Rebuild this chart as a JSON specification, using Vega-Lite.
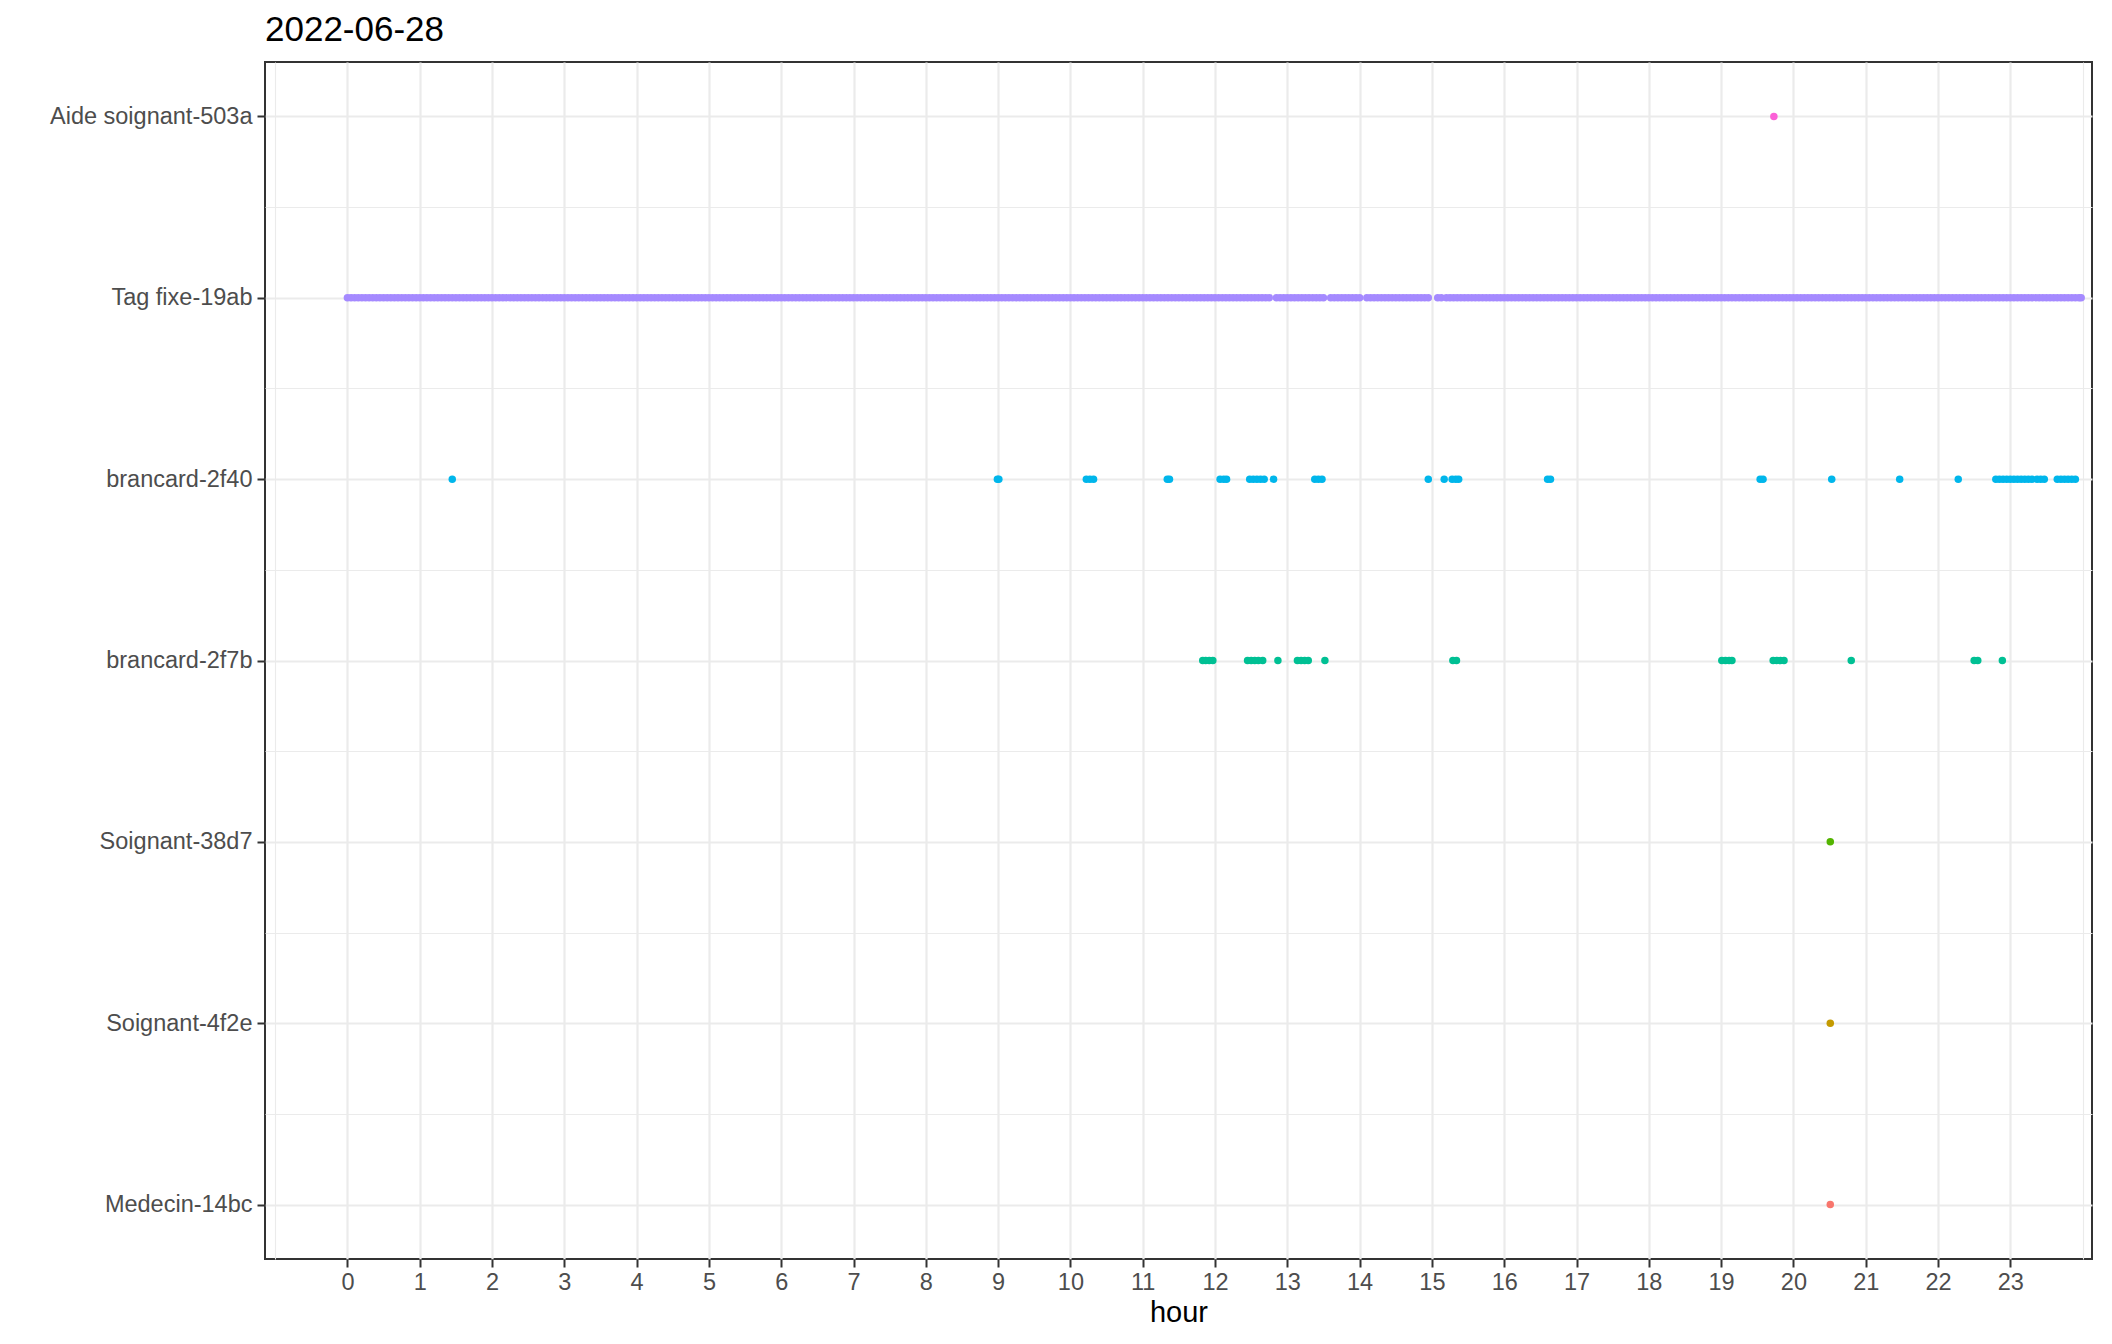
{
"$schema": "https://vega.github.io/schema/vega-lite/v6.json",
"autosize": "none",
"width": 1827,
"height": 1197,
"padding": {"left": 265, "top": 62, "right": 20, "bottom": 85},
"background": "white",
"config": {
  "font": "Liberation Sans",
  "view": {"stroke": "#333333", "strokeWidth": 2},
  "axis": {"domain": false}
},
"title": {"text": "2022-06-28", "anchor": "start", "frame": "group", "fontSize": 35, "fontWeight": "normal", "color": "#000000", "font": "Liberation Sans", "offset": 14},
"layer": [
{
  "data": {"values": [
{"device":"Aide soignant-503a","hour":19.73},
{"device":"Soignant-38d7","hour":20.51},
{"device":"Soignant-4f2e","hour":20.51},
{"device":"Medecin-14bc","hour":20.51},
{"device":"brancard-2f40","hour":1.45},{"device":"brancard-2f40","hour":8.99},{"device":"brancard-2f40","hour":9.01},
{"device":"brancard-2f40","hour":10.22},{"device":"brancard-2f40","hour":10.27},{"device":"brancard-2f40","hour":10.32},
{"device":"brancard-2f40","hour":11.34},{"device":"brancard-2f40","hour":11.37},
{"device":"brancard-2f40","hour":12.07},{"device":"brancard-2f40","hour":12.12},{"device":"brancard-2f40","hour":12.16},
{"device":"brancard-2f40","hour":12.48},{"device":"brancard-2f40","hour":12.53},{"device":"brancard-2f40","hour":12.58},{"device":"brancard-2f40","hour":12.63},{"device":"brancard-2f40","hour":12.68},
{"device":"brancard-2f40","hour":12.81},
{"device":"brancard-2f40","hour":13.38},{"device":"brancard-2f40","hour":13.43},{"device":"brancard-2f40","hour":13.48},
{"device":"brancard-2f40","hour":14.95},{"device":"brancard-2f40","hour":15.17},
{"device":"brancard-2f40","hour":15.28},{"device":"brancard-2f40","hour":15.33},{"device":"brancard-2f40","hour":15.37},
{"device":"brancard-2f40","hour":16.6},{"device":"brancard-2f40","hour":16.64},
{"device":"brancard-2f40","hour":19.54},{"device":"brancard-2f40","hour":19.58},
{"device":"brancard-2f40","hour":20.53},{"device":"brancard-2f40","hour":21.47},{"device":"brancard-2f40","hour":22.28},
{"device":"brancard-2f40","hour":22.8},{"device":"brancard-2f40","hour":22.85},{"device":"brancard-2f40","hour":22.9},{"device":"brancard-2f40","hour":22.95},{"device":"brancard-2f40","hour":23.0},{"device":"brancard-2f40","hour":23.05},{"device":"brancard-2f40","hour":23.1},{"device":"brancard-2f40","hour":23.15},{"device":"brancard-2f40","hour":23.2},{"device":"brancard-2f40","hour":23.25},{"device":"brancard-2f40","hour":23.3},
{"device":"brancard-2f40","hour":23.37},{"device":"brancard-2f40","hour":23.42},{"device":"brancard-2f40","hour":23.47},
{"device":"brancard-2f40","hour":23.65},{"device":"brancard-2f40","hour":23.7},{"device":"brancard-2f40","hour":23.75},{"device":"brancard-2f40","hour":23.8},{"device":"brancard-2f40","hour":23.85},{"device":"brancard-2f40","hour":23.9},
{"device":"brancard-2f7b","hour":11.83},{"device":"brancard-2f7b","hour":11.87},{"device":"brancard-2f7b","hour":11.92},{"device":"brancard-2f7b","hour":11.97},
{"device":"brancard-2f7b","hour":12.45},{"device":"brancard-2f7b","hour":12.5},{"device":"brancard-2f7b","hour":12.55},{"device":"brancard-2f7b","hour":12.6},{"device":"brancard-2f7b","hour":12.66},
{"device":"brancard-2f7b","hour":12.87},
{"device":"brancard-2f7b","hour":13.14},{"device":"brancard-2f7b","hour":13.19},{"device":"brancard-2f7b","hour":13.24},{"device":"brancard-2f7b","hour":13.29},
{"device":"brancard-2f7b","hour":13.52},
{"device":"brancard-2f7b","hour":15.29},{"device":"brancard-2f7b","hour":15.34},
{"device":"brancard-2f7b","hour":19.01},{"device":"brancard-2f7b","hour":19.06},{"device":"brancard-2f7b","hour":19.11},{"device":"brancard-2f7b","hour":19.15},
{"device":"brancard-2f7b","hour":19.72},{"device":"brancard-2f7b","hour":19.77},{"device":"brancard-2f7b","hour":19.82},{"device":"brancard-2f7b","hour":19.87},
{"device":"brancard-2f7b","hour":20.8},
{"device":"brancard-2f7b","hour":22.5},{"device":"brancard-2f7b","hour":22.55},
{"device":"brancard-2f7b","hour":22.89},
{"device":"Tag fixe-19ab","hour":0},{"device":"Tag fixe-19ab","hour":0.05},{"device":"Tag fixe-19ab","hour":0.1},{"device":"Tag fixe-19ab","hour":0.15},{"device":"Tag fixe-19ab","hour":0.2},{"device":"Tag fixe-19ab","hour":0.25},{"device":"Tag fixe-19ab","hour":0.3},{"device":"Tag fixe-19ab","hour":0.35},{"device":"Tag fixe-19ab","hour":0.4},{"device":"Tag fixe-19ab","hour":0.45},
{"device":"Tag fixe-19ab","hour":0.5},{"device":"Tag fixe-19ab","hour":0.55},{"device":"Tag fixe-19ab","hour":0.6},{"device":"Tag fixe-19ab","hour":0.65},{"device":"Tag fixe-19ab","hour":0.7},{"device":"Tag fixe-19ab","hour":0.75},{"device":"Tag fixe-19ab","hour":0.8},{"device":"Tag fixe-19ab","hour":0.85},{"device":"Tag fixe-19ab","hour":0.9},{"device":"Tag fixe-19ab","hour":0.95},
{"device":"Tag fixe-19ab","hour":1.0},{"device":"Tag fixe-19ab","hour":1.05},{"device":"Tag fixe-19ab","hour":1.1},{"device":"Tag fixe-19ab","hour":1.15},{"device":"Tag fixe-19ab","hour":1.2},{"device":"Tag fixe-19ab","hour":1.25},{"device":"Tag fixe-19ab","hour":1.3},{"device":"Tag fixe-19ab","hour":1.35},{"device":"Tag fixe-19ab","hour":1.4},{"device":"Tag fixe-19ab","hour":1.45},
{"device":"Tag fixe-19ab","hour":1.5},{"device":"Tag fixe-19ab","hour":1.55},{"device":"Tag fixe-19ab","hour":1.6},{"device":"Tag fixe-19ab","hour":1.65},{"device":"Tag fixe-19ab","hour":1.7},{"device":"Tag fixe-19ab","hour":1.75},{"device":"Tag fixe-19ab","hour":1.8},{"device":"Tag fixe-19ab","hour":1.85},{"device":"Tag fixe-19ab","hour":1.9},{"device":"Tag fixe-19ab","hour":1.95},
{"device":"Tag fixe-19ab","hour":2.0},{"device":"Tag fixe-19ab","hour":2.05},{"device":"Tag fixe-19ab","hour":2.1},{"device":"Tag fixe-19ab","hour":2.15},{"device":"Tag fixe-19ab","hour":2.2},{"device":"Tag fixe-19ab","hour":2.25},{"device":"Tag fixe-19ab","hour":2.3},{"device":"Tag fixe-19ab","hour":2.35},{"device":"Tag fixe-19ab","hour":2.4},{"device":"Tag fixe-19ab","hour":2.45},
{"device":"Tag fixe-19ab","hour":2.5},{"device":"Tag fixe-19ab","hour":2.55},{"device":"Tag fixe-19ab","hour":2.6},{"device":"Tag fixe-19ab","hour":2.65},{"device":"Tag fixe-19ab","hour":2.7},{"device":"Tag fixe-19ab","hour":2.75},{"device":"Tag fixe-19ab","hour":2.8},{"device":"Tag fixe-19ab","hour":2.85},{"device":"Tag fixe-19ab","hour":2.9},{"device":"Tag fixe-19ab","hour":2.95},
{"device":"Tag fixe-19ab","hour":3.0},{"device":"Tag fixe-19ab","hour":3.05},{"device":"Tag fixe-19ab","hour":3.1},{"device":"Tag fixe-19ab","hour":3.15},{"device":"Tag fixe-19ab","hour":3.2},{"device":"Tag fixe-19ab","hour":3.25},{"device":"Tag fixe-19ab","hour":3.3},{"device":"Tag fixe-19ab","hour":3.35},{"device":"Tag fixe-19ab","hour":3.4},{"device":"Tag fixe-19ab","hour":3.45},
{"device":"Tag fixe-19ab","hour":3.5},{"device":"Tag fixe-19ab","hour":3.55},{"device":"Tag fixe-19ab","hour":3.6},{"device":"Tag fixe-19ab","hour":3.65},{"device":"Tag fixe-19ab","hour":3.7},{"device":"Tag fixe-19ab","hour":3.75},{"device":"Tag fixe-19ab","hour":3.8},{"device":"Tag fixe-19ab","hour":3.85},{"device":"Tag fixe-19ab","hour":3.9},{"device":"Tag fixe-19ab","hour":3.95},
{"device":"Tag fixe-19ab","hour":4.0},{"device":"Tag fixe-19ab","hour":4.05},{"device":"Tag fixe-19ab","hour":4.1},{"device":"Tag fixe-19ab","hour":4.15},{"device":"Tag fixe-19ab","hour":4.2},{"device":"Tag fixe-19ab","hour":4.25},{"device":"Tag fixe-19ab","hour":4.3},{"device":"Tag fixe-19ab","hour":4.35},{"device":"Tag fixe-19ab","hour":4.4},{"device":"Tag fixe-19ab","hour":4.45},
{"device":"Tag fixe-19ab","hour":4.5},{"device":"Tag fixe-19ab","hour":4.55},{"device":"Tag fixe-19ab","hour":4.6},{"device":"Tag fixe-19ab","hour":4.65},{"device":"Tag fixe-19ab","hour":4.7},{"device":"Tag fixe-19ab","hour":4.75},{"device":"Tag fixe-19ab","hour":4.8},{"device":"Tag fixe-19ab","hour":4.85},{"device":"Tag fixe-19ab","hour":4.9},{"device":"Tag fixe-19ab","hour":4.95},
{"device":"Tag fixe-19ab","hour":5.0},{"device":"Tag fixe-19ab","hour":5.05},{"device":"Tag fixe-19ab","hour":5.1},{"device":"Tag fixe-19ab","hour":5.15},{"device":"Tag fixe-19ab","hour":5.2},{"device":"Tag fixe-19ab","hour":5.25},{"device":"Tag fixe-19ab","hour":5.3},{"device":"Tag fixe-19ab","hour":5.35},{"device":"Tag fixe-19ab","hour":5.4},{"device":"Tag fixe-19ab","hour":5.45},
{"device":"Tag fixe-19ab","hour":5.5},{"device":"Tag fixe-19ab","hour":5.55},{"device":"Tag fixe-19ab","hour":5.6},{"device":"Tag fixe-19ab","hour":5.65},{"device":"Tag fixe-19ab","hour":5.7},{"device":"Tag fixe-19ab","hour":5.75},{"device":"Tag fixe-19ab","hour":5.8},{"device":"Tag fixe-19ab","hour":5.85},{"device":"Tag fixe-19ab","hour":5.9},{"device":"Tag fixe-19ab","hour":5.95},
{"device":"Tag fixe-19ab","hour":6.0},{"device":"Tag fixe-19ab","hour":6.05},{"device":"Tag fixe-19ab","hour":6.1},{"device":"Tag fixe-19ab","hour":6.15},{"device":"Tag fixe-19ab","hour":6.2},{"device":"Tag fixe-19ab","hour":6.25},{"device":"Tag fixe-19ab","hour":6.3},{"device":"Tag fixe-19ab","hour":6.35},{"device":"Tag fixe-19ab","hour":6.4},{"device":"Tag fixe-19ab","hour":6.45},
{"device":"Tag fixe-19ab","hour":6.5},{"device":"Tag fixe-19ab","hour":6.55},{"device":"Tag fixe-19ab","hour":6.6},{"device":"Tag fixe-19ab","hour":6.65},{"device":"Tag fixe-19ab","hour":6.7},{"device":"Tag fixe-19ab","hour":6.75},{"device":"Tag fixe-19ab","hour":6.8},{"device":"Tag fixe-19ab","hour":6.85},{"device":"Tag fixe-19ab","hour":6.9},{"device":"Tag fixe-19ab","hour":6.95},
{"device":"Tag fixe-19ab","hour":7.0},{"device":"Tag fixe-19ab","hour":7.05},{"device":"Tag fixe-19ab","hour":7.1},{"device":"Tag fixe-19ab","hour":7.15},{"device":"Tag fixe-19ab","hour":7.2},{"device":"Tag fixe-19ab","hour":7.25},{"device":"Tag fixe-19ab","hour":7.3},{"device":"Tag fixe-19ab","hour":7.35},{"device":"Tag fixe-19ab","hour":7.4},{"device":"Tag fixe-19ab","hour":7.45},
{"device":"Tag fixe-19ab","hour":7.5},{"device":"Tag fixe-19ab","hour":7.55},{"device":"Tag fixe-19ab","hour":7.6},{"device":"Tag fixe-19ab","hour":7.65},{"device":"Tag fixe-19ab","hour":7.7},{"device":"Tag fixe-19ab","hour":7.75},{"device":"Tag fixe-19ab","hour":7.8},{"device":"Tag fixe-19ab","hour":7.85},{"device":"Tag fixe-19ab","hour":7.9},{"device":"Tag fixe-19ab","hour":7.95},
{"device":"Tag fixe-19ab","hour":8.0},{"device":"Tag fixe-19ab","hour":8.05},{"device":"Tag fixe-19ab","hour":8.1},{"device":"Tag fixe-19ab","hour":8.15},{"device":"Tag fixe-19ab","hour":8.2},{"device":"Tag fixe-19ab","hour":8.25},{"device":"Tag fixe-19ab","hour":8.3},{"device":"Tag fixe-19ab","hour":8.35},{"device":"Tag fixe-19ab","hour":8.4},{"device":"Tag fixe-19ab","hour":8.45},
{"device":"Tag fixe-19ab","hour":8.5},{"device":"Tag fixe-19ab","hour":8.55},{"device":"Tag fixe-19ab","hour":8.6},{"device":"Tag fixe-19ab","hour":8.65},{"device":"Tag fixe-19ab","hour":8.7},{"device":"Tag fixe-19ab","hour":8.75},{"device":"Tag fixe-19ab","hour":8.8},{"device":"Tag fixe-19ab","hour":8.85},{"device":"Tag fixe-19ab","hour":8.9},{"device":"Tag fixe-19ab","hour":8.95},
{"device":"Tag fixe-19ab","hour":9.0},{"device":"Tag fixe-19ab","hour":9.05},{"device":"Tag fixe-19ab","hour":9.1},{"device":"Tag fixe-19ab","hour":9.15},{"device":"Tag fixe-19ab","hour":9.2},{"device":"Tag fixe-19ab","hour":9.25},{"device":"Tag fixe-19ab","hour":9.3},{"device":"Tag fixe-19ab","hour":9.35},{"device":"Tag fixe-19ab","hour":9.4},{"device":"Tag fixe-19ab","hour":9.45},
{"device":"Tag fixe-19ab","hour":9.5},{"device":"Tag fixe-19ab","hour":9.55},{"device":"Tag fixe-19ab","hour":9.6},{"device":"Tag fixe-19ab","hour":9.65},{"device":"Tag fixe-19ab","hour":9.7},{"device":"Tag fixe-19ab","hour":9.75},{"device":"Tag fixe-19ab","hour":9.8},{"device":"Tag fixe-19ab","hour":9.85},{"device":"Tag fixe-19ab","hour":9.9},{"device":"Tag fixe-19ab","hour":9.95},
{"device":"Tag fixe-19ab","hour":10.0},{"device":"Tag fixe-19ab","hour":10.05},{"device":"Tag fixe-19ab","hour":10.1},{"device":"Tag fixe-19ab","hour":10.15},{"device":"Tag fixe-19ab","hour":10.2},{"device":"Tag fixe-19ab","hour":10.25},{"device":"Tag fixe-19ab","hour":10.3},{"device":"Tag fixe-19ab","hour":10.35},{"device":"Tag fixe-19ab","hour":10.4},{"device":"Tag fixe-19ab","hour":10.45},
{"device":"Tag fixe-19ab","hour":10.5},{"device":"Tag fixe-19ab","hour":10.55},{"device":"Tag fixe-19ab","hour":10.6},{"device":"Tag fixe-19ab","hour":10.65},{"device":"Tag fixe-19ab","hour":10.7},{"device":"Tag fixe-19ab","hour":10.75},{"device":"Tag fixe-19ab","hour":10.8},{"device":"Tag fixe-19ab","hour":10.85},{"device":"Tag fixe-19ab","hour":10.9},{"device":"Tag fixe-19ab","hour":10.95},
{"device":"Tag fixe-19ab","hour":11.0},{"device":"Tag fixe-19ab","hour":11.05},{"device":"Tag fixe-19ab","hour":11.1},{"device":"Tag fixe-19ab","hour":11.15},{"device":"Tag fixe-19ab","hour":11.2},{"device":"Tag fixe-19ab","hour":11.25},{"device":"Tag fixe-19ab","hour":11.3},{"device":"Tag fixe-19ab","hour":11.35},{"device":"Tag fixe-19ab","hour":11.4},{"device":"Tag fixe-19ab","hour":11.45},
{"device":"Tag fixe-19ab","hour":11.5},{"device":"Tag fixe-19ab","hour":11.55},{"device":"Tag fixe-19ab","hour":11.6},{"device":"Tag fixe-19ab","hour":11.65},{"device":"Tag fixe-19ab","hour":11.7},{"device":"Tag fixe-19ab","hour":11.75},{"device":"Tag fixe-19ab","hour":11.8},{"device":"Tag fixe-19ab","hour":11.85},{"device":"Tag fixe-19ab","hour":11.9},{"device":"Tag fixe-19ab","hour":11.95},
{"device":"Tag fixe-19ab","hour":12.0},{"device":"Tag fixe-19ab","hour":12.05},{"device":"Tag fixe-19ab","hour":12.1},{"device":"Tag fixe-19ab","hour":12.15},{"device":"Tag fixe-19ab","hour":12.2},{"device":"Tag fixe-19ab","hour":12.25},{"device":"Tag fixe-19ab","hour":12.3},{"device":"Tag fixe-19ab","hour":12.35},{"device":"Tag fixe-19ab","hour":12.4},{"device":"Tag fixe-19ab","hour":12.45},
{"device":"Tag fixe-19ab","hour":12.5},{"device":"Tag fixe-19ab","hour":12.55},{"device":"Tag fixe-19ab","hour":12.6},{"device":"Tag fixe-19ab","hour":12.65},{"device":"Tag fixe-19ab","hour":12.7},{"device":"Tag fixe-19ab","hour":12.75},{"device":"Tag fixe-19ab","hour":12.85},{"device":"Tag fixe-19ab","hour":12.9},{"device":"Tag fixe-19ab","hour":12.95},
{"device":"Tag fixe-19ab","hour":13.0},{"device":"Tag fixe-19ab","hour":13.05},{"device":"Tag fixe-19ab","hour":13.1},{"device":"Tag fixe-19ab","hour":13.15},{"device":"Tag fixe-19ab","hour":13.2},{"device":"Tag fixe-19ab","hour":13.25},{"device":"Tag fixe-19ab","hour":13.3},{"device":"Tag fixe-19ab","hour":13.35},{"device":"Tag fixe-19ab","hour":13.4},{"device":"Tag fixe-19ab","hour":13.45},
{"device":"Tag fixe-19ab","hour":13.5},{"device":"Tag fixe-19ab","hour":13.6},{"device":"Tag fixe-19ab","hour":13.65},{"device":"Tag fixe-19ab","hour":13.7},{"device":"Tag fixe-19ab","hour":13.75},{"device":"Tag fixe-19ab","hour":13.8},{"device":"Tag fixe-19ab","hour":13.85},{"device":"Tag fixe-19ab","hour":13.9},{"device":"Tag fixe-19ab","hour":13.95},
{"device":"Tag fixe-19ab","hour":14.0},{"device":"Tag fixe-19ab","hour":14.1},{"device":"Tag fixe-19ab","hour":14.15},{"device":"Tag fixe-19ab","hour":14.2},{"device":"Tag fixe-19ab","hour":14.25},{"device":"Tag fixe-19ab","hour":14.3},{"device":"Tag fixe-19ab","hour":14.35},{"device":"Tag fixe-19ab","hour":14.4},{"device":"Tag fixe-19ab","hour":14.45},
{"device":"Tag fixe-19ab","hour":14.5},{"device":"Tag fixe-19ab","hour":14.55},{"device":"Tag fixe-19ab","hour":14.6},{"device":"Tag fixe-19ab","hour":14.65},{"device":"Tag fixe-19ab","hour":14.7},{"device":"Tag fixe-19ab","hour":14.75},{"device":"Tag fixe-19ab","hour":14.8},{"device":"Tag fixe-19ab","hour":14.85},{"device":"Tag fixe-19ab","hour":14.9},{"device":"Tag fixe-19ab","hour":14.95},
{"device":"Tag fixe-19ab","hour":15.08},{"device":"Tag fixe-19ab","hour":15.13},
{"device":"Tag fixe-19ab","hour":15.2},{"device":"Tag fixe-19ab","hour":15.25},{"device":"Tag fixe-19ab","hour":15.3},{"device":"Tag fixe-19ab","hour":15.35},{"device":"Tag fixe-19ab","hour":15.4},{"device":"Tag fixe-19ab","hour":15.45},
{"device":"Tag fixe-19ab","hour":15.5},{"device":"Tag fixe-19ab","hour":15.55},{"device":"Tag fixe-19ab","hour":15.6},{"device":"Tag fixe-19ab","hour":15.65},{"device":"Tag fixe-19ab","hour":15.7},{"device":"Tag fixe-19ab","hour":15.75},{"device":"Tag fixe-19ab","hour":15.8},{"device":"Tag fixe-19ab","hour":15.85},{"device":"Tag fixe-19ab","hour":15.9},{"device":"Tag fixe-19ab","hour":15.95},
{"device":"Tag fixe-19ab","hour":16.0},{"device":"Tag fixe-19ab","hour":16.05},{"device":"Tag fixe-19ab","hour":16.1},{"device":"Tag fixe-19ab","hour":16.15},{"device":"Tag fixe-19ab","hour":16.2},{"device":"Tag fixe-19ab","hour":16.25},{"device":"Tag fixe-19ab","hour":16.3},{"device":"Tag fixe-19ab","hour":16.35},{"device":"Tag fixe-19ab","hour":16.4},{"device":"Tag fixe-19ab","hour":16.45},
{"device":"Tag fixe-19ab","hour":16.5},{"device":"Tag fixe-19ab","hour":16.55},{"device":"Tag fixe-19ab","hour":16.6},{"device":"Tag fixe-19ab","hour":16.65},{"device":"Tag fixe-19ab","hour":16.7},{"device":"Tag fixe-19ab","hour":16.75},{"device":"Tag fixe-19ab","hour":16.8},{"device":"Tag fixe-19ab","hour":16.85},{"device":"Tag fixe-19ab","hour":16.9},{"device":"Tag fixe-19ab","hour":16.95},
{"device":"Tag fixe-19ab","hour":17.0},{"device":"Tag fixe-19ab","hour":17.05},{"device":"Tag fixe-19ab","hour":17.1},{"device":"Tag fixe-19ab","hour":17.15},{"device":"Tag fixe-19ab","hour":17.2},{"device":"Tag fixe-19ab","hour":17.25},{"device":"Tag fixe-19ab","hour":17.3},{"device":"Tag fixe-19ab","hour":17.35},{"device":"Tag fixe-19ab","hour":17.4},{"device":"Tag fixe-19ab","hour":17.45},
{"device":"Tag fixe-19ab","hour":17.5},{"device":"Tag fixe-19ab","hour":17.55},{"device":"Tag fixe-19ab","hour":17.6},{"device":"Tag fixe-19ab","hour":17.65},{"device":"Tag fixe-19ab","hour":17.7},{"device":"Tag fixe-19ab","hour":17.75},{"device":"Tag fixe-19ab","hour":17.8},{"device":"Tag fixe-19ab","hour":17.85},{"device":"Tag fixe-19ab","hour":17.9},{"device":"Tag fixe-19ab","hour":17.95},
{"device":"Tag fixe-19ab","hour":18.0},{"device":"Tag fixe-19ab","hour":18.05},{"device":"Tag fixe-19ab","hour":18.1},{"device":"Tag fixe-19ab","hour":18.15},{"device":"Tag fixe-19ab","hour":18.2},{"device":"Tag fixe-19ab","hour":18.25},{"device":"Tag fixe-19ab","hour":18.3},{"device":"Tag fixe-19ab","hour":18.35},{"device":"Tag fixe-19ab","hour":18.4},{"device":"Tag fixe-19ab","hour":18.45},
{"device":"Tag fixe-19ab","hour":18.5},{"device":"Tag fixe-19ab","hour":18.55},{"device":"Tag fixe-19ab","hour":18.6},{"device":"Tag fixe-19ab","hour":18.65},{"device":"Tag fixe-19ab","hour":18.7},{"device":"Tag fixe-19ab","hour":18.75},{"device":"Tag fixe-19ab","hour":18.8},{"device":"Tag fixe-19ab","hour":18.85},{"device":"Tag fixe-19ab","hour":18.9},{"device":"Tag fixe-19ab","hour":18.95},
{"device":"Tag fixe-19ab","hour":19.0},{"device":"Tag fixe-19ab","hour":19.05},{"device":"Tag fixe-19ab","hour":19.1},{"device":"Tag fixe-19ab","hour":19.15},{"device":"Tag fixe-19ab","hour":19.2},{"device":"Tag fixe-19ab","hour":19.25},{"device":"Tag fixe-19ab","hour":19.3},{"device":"Tag fixe-19ab","hour":19.35},{"device":"Tag fixe-19ab","hour":19.4},{"device":"Tag fixe-19ab","hour":19.45},
{"device":"Tag fixe-19ab","hour":19.5},{"device":"Tag fixe-19ab","hour":19.55},{"device":"Tag fixe-19ab","hour":19.6},{"device":"Tag fixe-19ab","hour":19.65},{"device":"Tag fixe-19ab","hour":19.7},{"device":"Tag fixe-19ab","hour":19.75},{"device":"Tag fixe-19ab","hour":19.8},{"device":"Tag fixe-19ab","hour":19.85},{"device":"Tag fixe-19ab","hour":19.9},{"device":"Tag fixe-19ab","hour":19.95},
{"device":"Tag fixe-19ab","hour":20.0},{"device":"Tag fixe-19ab","hour":20.05},{"device":"Tag fixe-19ab","hour":20.1},{"device":"Tag fixe-19ab","hour":20.15},{"device":"Tag fixe-19ab","hour":20.2},{"device":"Tag fixe-19ab","hour":20.25},{"device":"Tag fixe-19ab","hour":20.3},{"device":"Tag fixe-19ab","hour":20.35},{"device":"Tag fixe-19ab","hour":20.4},{"device":"Tag fixe-19ab","hour":20.45},
{"device":"Tag fixe-19ab","hour":20.5},{"device":"Tag fixe-19ab","hour":20.55},{"device":"Tag fixe-19ab","hour":20.6},{"device":"Tag fixe-19ab","hour":20.65},{"device":"Tag fixe-19ab","hour":20.7},{"device":"Tag fixe-19ab","hour":20.75},{"device":"Tag fixe-19ab","hour":20.8},{"device":"Tag fixe-19ab","hour":20.85},{"device":"Tag fixe-19ab","hour":20.9},{"device":"Tag fixe-19ab","hour":20.95},
{"device":"Tag fixe-19ab","hour":21.0},{"device":"Tag fixe-19ab","hour":21.05},{"device":"Tag fixe-19ab","hour":21.1},{"device":"Tag fixe-19ab","hour":21.15},{"device":"Tag fixe-19ab","hour":21.2},{"device":"Tag fixe-19ab","hour":21.25},{"device":"Tag fixe-19ab","hour":21.3},{"device":"Tag fixe-19ab","hour":21.35},{"device":"Tag fixe-19ab","hour":21.4},{"device":"Tag fixe-19ab","hour":21.45},
{"device":"Tag fixe-19ab","hour":21.5},{"device":"Tag fixe-19ab","hour":21.55},{"device":"Tag fixe-19ab","hour":21.6},{"device":"Tag fixe-19ab","hour":21.65},{"device":"Tag fixe-19ab","hour":21.7},{"device":"Tag fixe-19ab","hour":21.75},{"device":"Tag fixe-19ab","hour":21.8},{"device":"Tag fixe-19ab","hour":21.85},{"device":"Tag fixe-19ab","hour":21.9},{"device":"Tag fixe-19ab","hour":21.95},
{"device":"Tag fixe-19ab","hour":22.0},{"device":"Tag fixe-19ab","hour":22.05},{"device":"Tag fixe-19ab","hour":22.1},{"device":"Tag fixe-19ab","hour":22.15},{"device":"Tag fixe-19ab","hour":22.2},{"device":"Tag fixe-19ab","hour":22.25},{"device":"Tag fixe-19ab","hour":22.3},{"device":"Tag fixe-19ab","hour":22.35},{"device":"Tag fixe-19ab","hour":22.4},{"device":"Tag fixe-19ab","hour":22.45},
{"device":"Tag fixe-19ab","hour":22.5},{"device":"Tag fixe-19ab","hour":22.55},{"device":"Tag fixe-19ab","hour":22.6},{"device":"Tag fixe-19ab","hour":22.65},{"device":"Tag fixe-19ab","hour":22.7},{"device":"Tag fixe-19ab","hour":22.75},{"device":"Tag fixe-19ab","hour":22.8},{"device":"Tag fixe-19ab","hour":22.85},{"device":"Tag fixe-19ab","hour":22.9},{"device":"Tag fixe-19ab","hour":22.95},
{"device":"Tag fixe-19ab","hour":23.0},{"device":"Tag fixe-19ab","hour":23.05},{"device":"Tag fixe-19ab","hour":23.1},{"device":"Tag fixe-19ab","hour":23.15},{"device":"Tag fixe-19ab","hour":23.2},{"device":"Tag fixe-19ab","hour":23.25},{"device":"Tag fixe-19ab","hour":23.3},{"device":"Tag fixe-19ab","hour":23.35},{"device":"Tag fixe-19ab","hour":23.4},{"device":"Tag fixe-19ab","hour":23.45},
{"device":"Tag fixe-19ab","hour":23.5},{"device":"Tag fixe-19ab","hour":23.55},{"device":"Tag fixe-19ab","hour":23.6},{"device":"Tag fixe-19ab","hour":23.65},{"device":"Tag fixe-19ab","hour":23.7},{"device":"Tag fixe-19ab","hour":23.75},{"device":"Tag fixe-19ab","hour":23.8},{"device":"Tag fixe-19ab","hour":23.85},{"device":"Tag fixe-19ab","hour":23.9},{"device":"Tag fixe-19ab","hour":23.95},{"device":"Tag fixe-19ab","hour":23.98}
  ]},
  "mark": {"type": "circle", "size": 56, "opacity": 1, "strokeWidth": 0},
  "encoding": {
    "x": {"field": "hour", "type": "quantitative",
      "scale": {"domain": [-1.14, 24.13], "nice": false, "zero": false},
      "axis": {
        "title": "hour", "titleFontSize": 29, "titleFontWeight": "normal", "titleColor": "#000000", "titlePadding": 5,
        "values": [-1,-0.5,0,0.5,1,1.5,2,2.5,3,3.5,4,4.5,5,5.5,6,6.5,7,7.5,8,8.5,9,9.5,10,10.5,11,11.5,12,12.5,13,13.5,14,14.5,15,15.5,16,16.5,17,17.5,18,18.5,19,19.5,20,20.5,21,21.5,22,22.5,23,23.5,24],
        "format": "d",
        "labelExpr": "(datum.value >= 0 && datum.value <= 23 && datum.value % 1 === 0) ? datum.label : ''",
        "labelFontSize": 23.5, "labelColor": "#4D4D4D", "labelPadding": 3, "labelOverlap": false, "labelFlush": false,
        "grid": true, "gridColor": "#EBEBEB",
        "gridWidth": {"condition": {"test": "datum.value >= 0 && datum.value <= 23 && datum.value % 1 === 0", "value": 2.2}, "value": 1.1},
        "ticks": true, "tickSize": 8, "tickWidth": 2, "tickColor": "#333333",
        "tickOpacity": {"condition": {"test": "datum.value >= 0 && datum.value <= 23 && datum.value % 1 === 0", "value": 1}, "value": 0}
      }
    },
    "y": {"field": "device", "type": "nominal",
      "scale": {"type": "point", "padding": 0.3,
        "domain": ["Aide soignant-503a","Tag fixe-19ab","brancard-2f40","brancard-2f7b","Soignant-38d7","Soignant-4f2e","Medecin-14bc"]},
      "axis": {"title": null, "labelFontSize": 23.5, "labelColor": "#4D4D4D", "labelPadding": 5, "labelLimit": 0,
        "grid": true, "gridColor": "#EBEBEB", "gridWidth": 2.2,
        "tickSize": 8, "tickWidth": 2, "tickColor": "#333333"}
    },
    "color": {"field": "device", "type": "nominal", "legend": null,
      "scale": {"domain": ["Medecin-14bc","Soignant-4f2e","Soignant-38d7","brancard-2f7b","brancard-2f40","Tag fixe-19ab","Aide soignant-503a"],
        "range": ["#F8766D","#C49A00","#53B400","#00C094","#00B6EB","#A58AFF","#FB61D7"]}}
  }
},
{
  "data": {"values": []},
  "mark": {"type": "rule"},
  "encoding": {
    "y": {"field": "pos", "type": "quantitative",
      "scale": {"domain": [0.7, 7.3], "nice": false, "zero": false},
      "axis": {"orient": "right", "title": null, "labels": false, "ticks": false, "domain": false,
        "grid": true, "gridColor": "#EBEBEB", "gridWidth": 1.1,
        "values": [1.5, 2.5, 3.5, 4.5, 5.5, 6.5]}
    }
  }
}
],
"resolve": {"scale": {"y": "independent", "color": "independent"}, "axis": {"y": "independent"}}
}
